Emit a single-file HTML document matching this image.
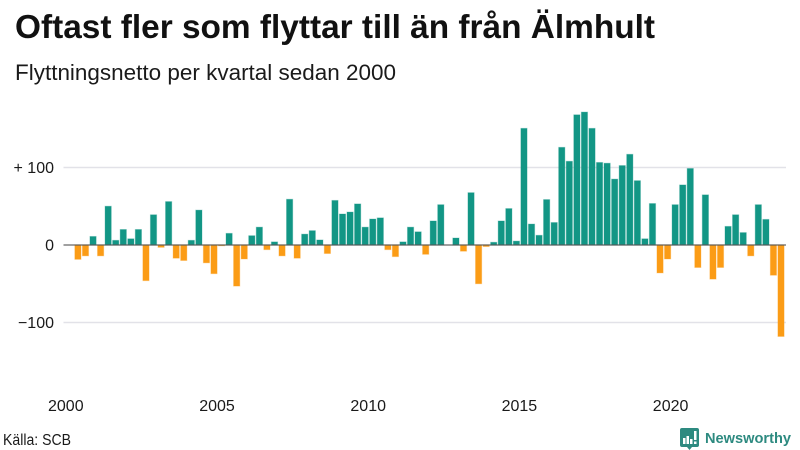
<!DOCTYPE html>
<html lang="sv">
<head>
<meta charset="utf-8">
<title>Oftast fler som flyttar till än från Älmhult</title>
<style>
html,body{margin:0;padding:0;background:#fff;}
svg{display:block;}
text{font-family:"Liberation Sans","DejaVu Sans",sans-serif;fill:#1a1a1a;}
</style>
</head>
<body>
<svg id="chart" width="800" height="450" viewBox="0 0 800 450" xmlns="http://www.w3.org/2000/svg">
  <text x="15" y="38" font-size="33" font-weight="700" textLength="640" lengthAdjust="spacingAndGlyphs" style="fill:#111">Oftast fler som flyttar till än från Älmhult</text>
  <text x="15" y="80" font-size="22" textLength="381" lengthAdjust="spacingAndGlyphs">Flyttningsnetto per kvartal sedan 2000</text>
  <g id="grid"></g>
  <g id="bars"></g>
  <g id="zero"></g>
  <g id="ylabels"></g>
  <g id="xlabels"></g>
  <text x="3" y="445" font-size="15.5" textLength="68" lengthAdjust="spacingAndGlyphs">Källa: SCB</text>
  <g>
    <path d="M682 428h15a2 2 0 0 1 2 2v15a2 2 0 0 1-2 2h-5l-2.500 3-2.500-3h-5a2 2 0 0 1-2-2v-15a2 2 0 0 1 2-2z" fill="#2d8a80"/>
    <rect x="683" y="438" width="2.500" height="6" fill="#fff"/>
    <rect x="686.500" y="436" width="2.500" height="8" fill="#fff"/>
    <rect x="690" y="439" width="2.500" height="5" fill="#fff"/>
    <rect x="694" y="431" width="2.500" height="9" fill="#fff"/>
    <rect x="694" y="441.500" width="2.500" height="2.500" fill="#fff"/>
    <text x="705" y="443" font-size="15" font-weight="700" textLength="86" lengthAdjust="spacingAndGlyphs" style="fill:#2d8a80">Newsworthy</text>
  </g>
</svg>
<script>
const startYear = 2000;
const quarterlyNet = [
  0, 0, -18.5, -14, 11, -14, 50, 6, 20, 8, 20, -46,
  39, -3, 56, -17, -20, 6, 45, -23, -37, -1, 15, -53,
  -18, 12, 23, -6, 4, -14, 59, -17, 14, 18.5, 6.5, -11,
  57.5, 40, 42.5, 53, 23, 33.5, 35, -6, -15, 4, 23, 17,
  -12, 31, 52, 0, 9, -8, 67.5, -50, -2, 3.5, 31, 47,
  5, 150.5, 27, 12.5, 58.6, 29, 126, 108, 168, 171.5, 150.5, 106.5,
  105.5, 85, 102.5, 117, 83, 8, 53.5, -36, -18, 52, 77.5, 98.7,
  -29, 64.7, -44, -29, 24, 39, 16, -14, 52, 33, -39, -118
];
const yTicks = [100, 0, -100];
const yTickLabels = ['+ 100', '0', '\u2212100'];
const xTickYears = [2000, 2005, 2010, 2015, 2020];

const NS = 'http://www.w3.org/2000/svg';
const xScale = function (i) { return 62.8 + i * 7.56; };
const yScale = function (v) { return 245 - v * 0.775; };
const yearIndex = function (y) { return (y - startYear) * 4; };

const grid = document.getElementById('grid');
const ylabels = document.getElementById('ylabels');
yTicks.forEach(function (t, i) {
  if (t !== 0) {
    const line = document.createElementNS(NS, 'line');
    
    
    line.setAttribute('x1', 63.5);
    line.setAttribute('x2', 786);
    line.setAttribute('y1', yScale(t));
    line.setAttribute('y2', yScale(t));
    line.setAttribute('stroke', '#e2e2e8');
    line.setAttribute('stroke-width', 1.5);
    grid.appendChild(line);
  }
  const label = document.createElementNS(NS, 'text');
  
  
  label.setAttribute('x', 54);
  label.setAttribute('y', yScale(t) + 5.5);
  label.setAttribute('text-anchor', 'end');
  label.setAttribute('font-size', 16);
  label.textContent = yTickLabels[i];
  ylabels.appendChild(label);
});

const bars = document.getElementById('bars');
quarterlyNet.forEach(function (v, i) {
  if (v === 0) return;
  const rect = document.createElementNS(NS, 'rect');
  
  
  const top = Math.min(yScale(v), yScale(0));
  rect.setAttribute('x', xScale(i) - 3.1);
  rect.setAttribute('y', top);
  rect.setAttribute('width', 6.2);
  rect.setAttribute('height', Math.abs(yScale(v) - yScale(0)));
  rect.setAttribute('fill', v > 0 ? '#129685' : '#fb9c16');
  rect.setAttribute('stroke', v > 0 ? '#129685' : '#fb9c16');
  rect.setAttribute('stroke-opacity', 0.3);
  rect.setAttribute('stroke-width', 1);
  bars.appendChild(rect);
});

const zero = document.getElementById('zero');
const zeroLine = document.createElementNS(NS, 'line');


zeroLine.setAttribute('x1', 63.5);
zeroLine.setAttribute('x2', 786);
zeroLine.setAttribute('y1', yScale(0));
zeroLine.setAttribute('y2', yScale(0));
zeroLine.setAttribute('stroke', '#555');
zeroLine.setAttribute('stroke-opacity', 0.75);
zeroLine.setAttribute('stroke-width', 1.5);
zero.appendChild(zeroLine);

const xlabels = document.getElementById('xlabels');
xTickYears.forEach(function (y) {
  const label = document.createElementNS(NS, 'text');
  
  
  label.setAttribute('x', xScale(yearIndex(y)) + 3);
  label.setAttribute('y', 411);
  label.setAttribute('text-anchor', 'middle');
  label.setAttribute('font-size', 16);
  label.textContent = String(y);
  xlabels.appendChild(label);
});
</script>
</body>
</html>
